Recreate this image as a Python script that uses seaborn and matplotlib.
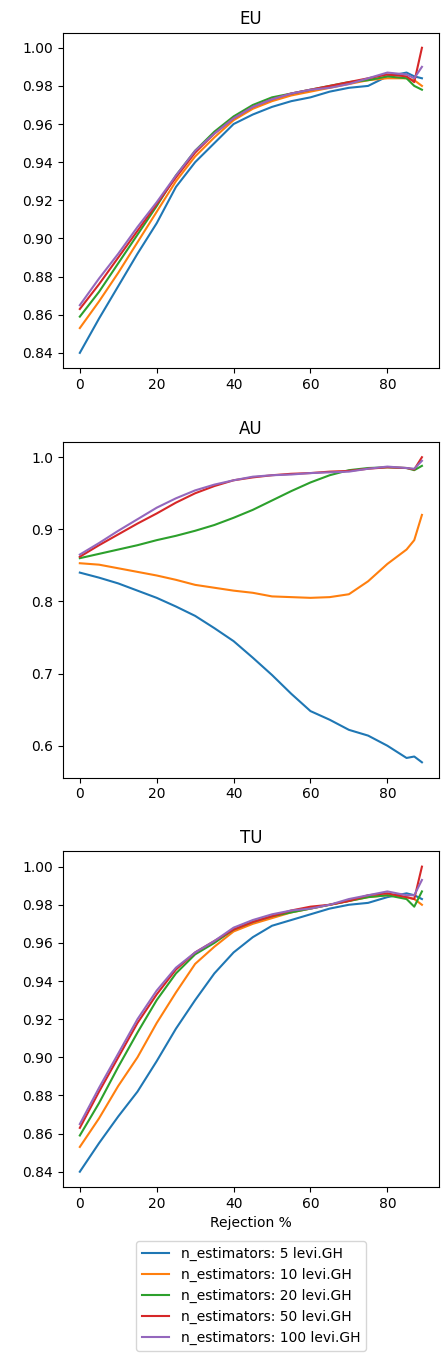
import pandas as pd
import matplotlib
matplotlib.use("Agg")
import matplotlib.pyplot as plt
import seaborn as sns

rejection = [0, 5, 10, 15, 20, 25, 30, 35, 40, 45, 50, 55, 60, 65, 70, 75, 80, 85, 87, 89]
models = ["n_estimators: 5 levi.GH", "n_estimators: 10 levi.GH", "n_estimators: 20 levi.GH",
          "n_estimators: 50 levi.GH", "n_estimators: 100 levi.GH"]

eu = [
    [0.840, 0.858, 0.875, 0.892, 0.908, 0.927, 0.940, 0.950, 0.960, 0.965, 0.969, 0.972, 0.974, 0.977, 0.979, 0.980, 0.985, 0.987, 0.985, 0.984],
    [0.853, 0.867, 0.882, 0.898, 0.914, 0.930, 0.943, 0.953, 0.962, 0.968, 0.972, 0.975, 0.977, 0.979, 0.981, 0.983, 0.984, 0.984, 0.983, 0.980],
    [0.859, 0.872, 0.887, 0.902, 0.917, 0.933, 0.946, 0.956, 0.964, 0.970, 0.974, 0.976, 0.978, 0.980, 0.982, 0.983, 0.985, 0.984, 0.980, 0.978],
    [0.863, 0.876, 0.890, 0.904, 0.918, 0.932, 0.945, 0.955, 0.963, 0.969, 0.973, 0.976, 0.978, 0.980, 0.982, 0.984, 0.986, 0.985, 0.982, 1.000],
    [0.865, 0.879, 0.892, 0.906, 0.919, 0.933, 0.946, 0.955, 0.963, 0.969, 0.973, 0.976, 0.978, 0.979, 0.981, 0.984, 0.987, 0.986, 0.984, 0.990],
]
au = [
    [0.840, 0.833, 0.825, 0.815, 0.805, 0.793, 0.780, 0.763, 0.745, 0.722, 0.698, 0.672, 0.648, 0.636, 0.622, 0.614, 0.600, 0.583, 0.585, 0.577],
    [0.853, 0.851, 0.846, 0.841, 0.836, 0.830, 0.823, 0.819, 0.815, 0.812, 0.807, 0.806, 0.805, 0.806, 0.810, 0.828, 0.852, 0.872, 0.885, 0.920],
    [0.860, 0.866, 0.872, 0.878, 0.885, 0.891, 0.898, 0.906, 0.916, 0.927, 0.940, 0.953, 0.965, 0.975, 0.982, 0.985, 0.986, 0.985, 0.982, 0.988],
    [0.862, 0.878, 0.893, 0.908, 0.922, 0.937, 0.950, 0.960, 0.968, 0.972, 0.975, 0.977, 0.978, 0.980, 0.981, 0.984, 0.986, 0.985, 0.983, 1.000],
    [0.865, 0.881, 0.898, 0.914, 0.930, 0.943, 0.954, 0.962, 0.968, 0.973, 0.975, 0.976, 0.978, 0.979, 0.980, 0.984, 0.987, 0.985, 0.984, 0.995],
]
tu = [
    [0.840, 0.855, 0.869, 0.882, 0.898, 0.915, 0.930, 0.944, 0.955, 0.963, 0.969, 0.972, 0.975, 0.978, 0.980, 0.981, 0.984, 0.986, 0.985, 0.983],
    [0.853, 0.868, 0.885, 0.900, 0.918, 0.934, 0.949, 0.958, 0.966, 0.970, 0.973, 0.976, 0.978, 0.980, 0.982, 0.984, 0.985, 0.984, 0.983, 0.980],
    [0.859, 0.876, 0.895, 0.913, 0.930, 0.944, 0.954, 0.960, 0.967, 0.971, 0.974, 0.976, 0.978, 0.980, 0.982, 0.984, 0.985, 0.983, 0.979, 0.987],
    [0.863, 0.882, 0.900, 0.918, 0.933, 0.946, 0.955, 0.961, 0.967, 0.971, 0.974, 0.977, 0.979, 0.980, 0.982, 0.985, 0.986, 0.984, 0.983, 1.000],
    [0.865, 0.884, 0.902, 0.920, 0.935, 0.947, 0.955, 0.961, 0.968, 0.972, 0.975, 0.977, 0.978, 0.980, 0.983, 0.985, 0.987, 0.985, 0.985, 0.993],
]

panels = [("EU", eu), ("AU", au), ("TU", tu)]

fig, axes = plt.subplots(3, 1, figsize=(4.48, 13.55), dpi=100)
for ax, (title, series) in zip(axes, panels):
    rows = []
    for name, vals in zip(models, series):
        for x, y in zip(rejection, vals):
            rows.append({"Rejection %": x, "value": y, "model": name})
    df = pd.DataFrame(rows)
    sns.lineplot(data=df, x="Rejection %", y="value", hue="model", ax=ax,
                 palette="tab10", legend=(title == "TU"))
    ax.set_title(title)
    ax.set_ylabel("")
    if title != "TU":
        ax.set_xlabel("")

axes[2].legend(title=None, loc="upper center", bbox_to_anchor=(0.5, -0.14), frameon=True)
fig.subplots_adjust(left=0.14, right=0.98, top=0.976, bottom=0.124, hspace=0.22)
fig.savefig("out.png", dpi=100)
